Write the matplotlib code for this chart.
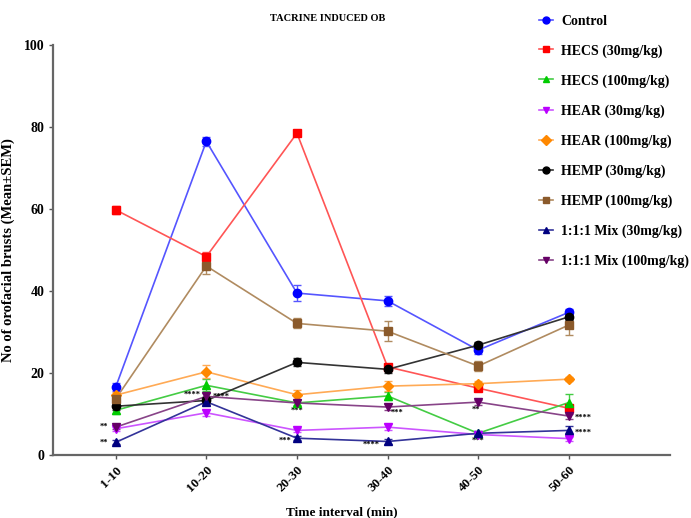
import matplotlib
matplotlib.use("Agg")
import matplotlib.pyplot as plt

plt.rcParams['font.family'] = ['Liberation Serif', 'DejaVu Serif']
plt.rcParams['font.weight'] = 'bold'

intervals = ["1-10", "10-20", "20-30", "30-40", "40-50", "50-60"]

control = [16.6, 76.5, 39.5, 37.6, 25.6, 34.8]
control_sem = [1.0, 1.0, 2.0, 1.2, 1.0, 0.8]
hecs30 = [59.8, 48.4, 78.5, 21.5, 16.3, 11.4]
hecs30_sem = [1.0, 1.2, 0.6, 0.8, 0.8, 0.8]
hecs100 = [10.9, 17.0, 12.7, 14.4, 5.3, 12.8]
hecs100_sem = [0.8, 1.5, 0.6, 1.0, 0.5, 2.0]
hear30 = [6.4, 10.3, 6.0, 6.8, 5.0, 4.0]
hear30_sem = [0.5, 0.8, 0.5, 0.8, 0.5, 0.5]
hear100 = [14.6, 20.3, 14.7, 16.8, 17.4, 18.5]
hear100_sem = [0.8, 1.6, 1.2, 1.2, 0.6, 0.5]
hemp30 = [11.9, 13.3, 22.6, 20.9, 26.8, 33.7]
hemp30_sem = [0.8, 0.8, 1.0, 0.8, 0.8, 0.8]
hemp100 = [13.7, 46.1, 32.1, 30.2, 21.7, 31.7]
hemp100_sem = [1.0, 2.0, 1.2, 2.4, 1.2, 2.4]
mix30 = [3.1, 13.0, 4.1, 3.3, 5.3, 6.0]
mix30_sem = [0.5, 0.8, 0.5, 0.5, 0.5, 1.0]
mix100 = [6.8, 14.3, 12.7, 11.7, 12.9, 9.5]
mix100_sem = [0.5, 0.8, 0.8, 0.8, 0.6, 0.6]

series = [
    ("Control", control, control_sem, "#0000ff", "#5555ff", "o"),
    ("HECS (30mg/kg)", hecs30, hecs30_sem, "#ff0000", "#ff5555", "s"),
    ("HECS (100mg/kg)", hecs100, hecs100_sem, "#00cc00", "#44cc44", "^"),
    ("HEAR (30mg/kg)", hear30, hear30_sem, "#bb00ff", "#cc55ff", "v"),
    ("HEAR (100mg/kg)", hear100, hear100_sem, "#ff8800", "#ffaa55", "D"),
    ("HEMP (30mg/kg)", hemp30, hemp30_sem, "#000000", "#333333", "o"),
    ("HEMP (100mg/kg)", hemp100, hemp100_sem, "#8b5a2b", "#b08b60", "s"),
    ("1:1:1 Mix (30mg/kg)", mix30, mix30_sem, "#000080", "#333399", "^"),
    ("1:1:1 Mix (100mg/kg)", mix100, mix100_sem, "#660066", "#884488", "v"),
]

# significance marks: (interval index, series values, text, dx px, dy px, ha)
stars = [
    (0, mix100, "**", -8, 0, "right"),
    (0, mix30, "**", -8, 0, "right"),
    (1, mix100, "****", -6, 2, "right"),
    (1, mix100, "****", 6, 0, "left"),
    (2, mix100, "***", 0, -8, "center"),
    (2, mix30, "***", -6, -3, "right"),
    (3, mix100, "***", 3, -6, "left"),
    (3, mix30, "****", -8, -3, "right"),
    (4, mix100, "**", -2, -8, "center"),
    (4, mix30, "***", 0, -8, "center"),
    (5, mix100, "****", 6, -2, "left"),
    (5, mix30, "****", 6, -2, "left"),
]

fig = plt.figure(figsize=(6.91, 5.18), dpi=100)
ax = fig.add_axes([0.077, 0.1216, 0.893, 0.7914])

x = list(range(len(intervals)))
handles = []
for name, vals, sem, mcol, lcol, mk in series:
    ax.plot(x, vals, color=lcol, lw=1.2, zorder=2)
    ax.errorbar(x, vals, yerr=sem, fmt="none", ecolor=lcol, elinewidth=1.0,
                capsize=3, capthick=1.0, zorder=3)
    ms = 5 if mk == "D" else 6
    ax.plot(x, vals, ls="none", marker=mk, ms=ms, color=mcol, zorder=4)
    h, = ax.plot([], [], color=lcol, lw=1.2, marker=mk, ms=5, mfc=mcol, mec=mcol)
    handles.append((h, name))

for i, vals, txt, dx, dy, ha in stars:
    ax.annotate(txt, (i, vals[i]), xytext=(dx, dy), textcoords="offset pixels",
                ha=ha, va="center", fontsize=6, fontweight="bold")

ax.set_xlim(-0.69, 6.12)
ax.set_ylim(0, 100)
ax.set_xticks(x)
ax.set_xticklabels(intervals, rotation=45, ha="right", rotation_mode="anchor",
                   fontsize=9.5, fontweight="bold")
ax.set_yticks([0, 20, 40, 60, 80, 100])
ax.tick_params(axis="y", labelsize=10, length=3, width=1, colors="#555555", labelcolor="black")
ax.tick_params(axis="x", length=3, width=1, colors="#555555", labelcolor="black")
for lab in ax.get_yticklabels():
    lab.set_fontweight("bold")
for s in ("top", "right"):
    ax.spines[s].set_visible(False)
for s in ("left", "bottom"):
    ax.spines[s].set_linewidth(1.6)
    ax.spines[s].set_color("#666666")

ax.set_xlabel("Time interval (min)", fontsize=9.5, fontweight="bold")
ax.xaxis.set_label_coords(0.468, -0.125)
ax.set_ylabel("No of orofacial brusts (Mean\u00b1SEM)", fontsize=10.5, fontweight="bold")
ax.yaxis.set_label_coords(-0.062, 0.5)
fig.text(0.474, 0.965, "TACRINE INDUCED OB", ha="center", va="center",
         fontsize=7.5, fontweight="bold")

leg = fig.legend([h for h, _ in handles], [n for _, n in handles],
                 loc="upper left", bbox_to_anchor=(0.78, 0.972), frameon=False,
                 prop={"weight": "bold", "size": 10}, labelspacing=1.19,
                 borderpad=0, borderaxespad=0,
                 handlelength=1.0, handletextpad=0.6)

fig.savefig("out.png", dpi=100)
